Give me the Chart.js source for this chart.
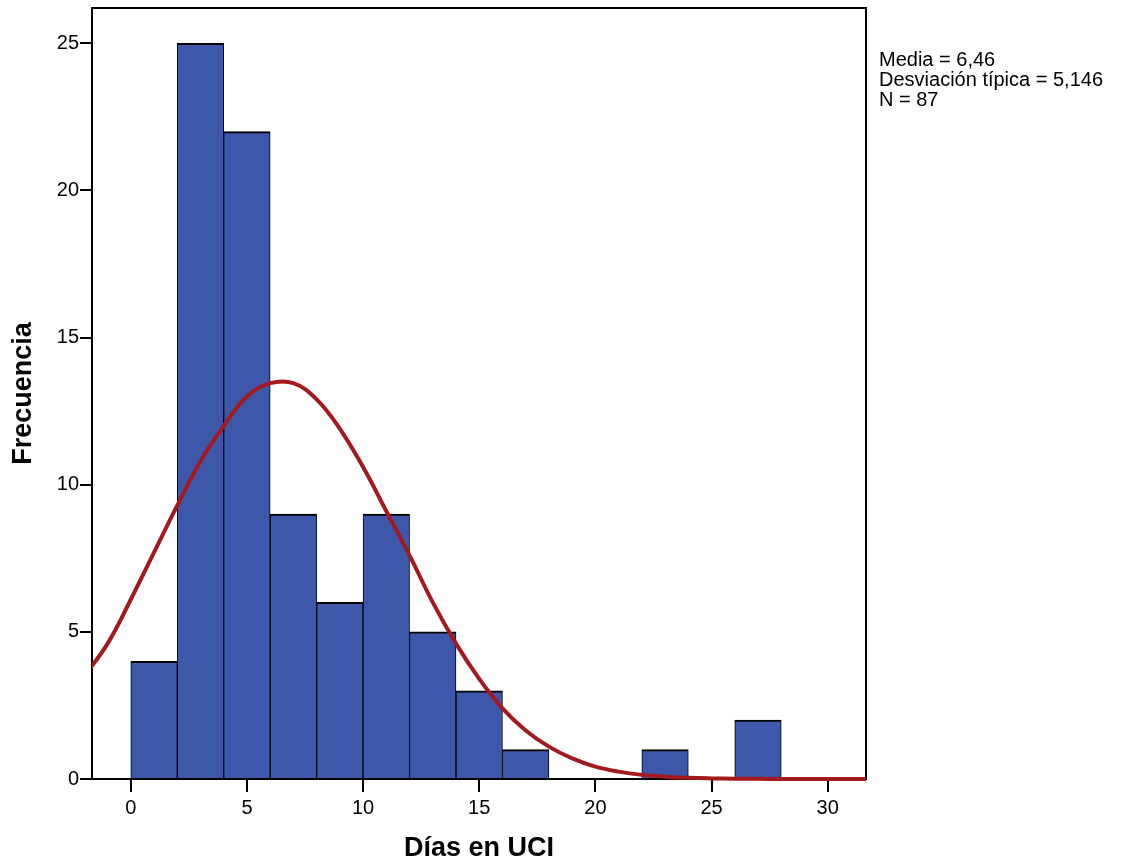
<!DOCTYPE HTML>
<html>

<head>
    <meta charset="UTF-8">
    <title>Días en UCI - Histograma</title>
    <script src="https://cdn.jsdelivr.net/npm/chart.js"></script>
    <style>
        html, body { margin: 0; padding: 0; background: #fff; }
        #wrap { width: 1121px; height: 865px; }
    </style>
</head>

<body>
    <div id="wrap"><canvas id="myChart" width="1121" height="865"></canvas></div>
    <script>
        // histogram bins (width 2 days)
        var binStarts = [0, 2, 4, 6, 8, 10, 12, 14, 16, 18, 20, 22, 24, 26];
        var counts = [4, 25, 22, 9, 6, 9, 5, 3, 1, 0, 0, 1, 0, 2];
        var binWidth = 2;

        // normal curve
        var curveX = [-2, -1, 0, 1, 2, 3, 4, 5, 6, 7, 8, 9, 10, 11, 12, 13, 14, 15, 16, 17, 18, 19, 20, 21, 22, 23, 24, 25, 26, 27, 28, 29, 30, 31, 32];
        var curveY = [3.5, 4.6, 6.1, 7.7, 9.3, 10.8, 12.0, 13.0, 13.45, 13.45, 12.9, 11.9, 10.6, 9.1, 7.6, 6.0, 4.6, 3.4, 2.4, 1.65, 1.1, 0.7, 0.42, 0.25, 0.14, 0.08, 0.04, 0.02, 0.01, 0.005, 0, 0, 0, 0, 0];

        var xTicks = [0, 5, 10, 15, 20, 25, 30];
        var yTicks = [0, 5, 10, 15, 20, 25];
        var stats = ['Media = 6,46', 'Desviación típica = 5,146', 'N = 87'];

        var fontFam = "'Liberation Sans', Arial, sans-serif";

        var barData = binStarts.map(function (s, i) {
            return { x: s + binWidth / 2, y: counts[i] === 0 ? null : counts[i] };
        });
        var lineData = curveX.map(function (x, i) {
            return { x: x, y: curveY[i] };
        });

        // frame around the plot + stats text
        var framePlugin = {
            id: 'frame',
            beforeDatasetsDraw: function (chart) {
                var c = chart.ctx, a = chart.chartArea;
                c.save();
                c.strokeStyle = '#000';
                c.lineWidth = 2;
                c.strokeRect(a.left, a.top, a.right - a.left, a.bottom - a.top);
                c.restore();
            },
            afterDraw: function (chart) {
                var c = chart.ctx;
                c.save();
                c.fillStyle = '#000';
                c.font = '20px ' + fontFam;
                c.textAlign = 'left';
                c.textBaseline = 'alphabetic';
                stats.forEach(function (t, i) {
                    c.fillText(t, 879, 66 + i * 20);
                });
                c.restore();
            }
        };

        var ctx = document.getElementById('myChart').getContext('2d');
        var chart = new Chart(ctx, {
            type: 'bar',
            data: {
                datasets: [{
                    type: 'line',
                    label: 'Normal',
                    data: lineData,
                    borderColor: '#a3191e',
                    borderWidth: 4,
                    pointRadius: 0,
                    fill: false,
                    tension: 0.4,
                    clip: { left: 0, right: 0, top: 0, bottom: 3 },
                    order: 0
                }, {
                    label: 'Frecuencia',
                    data: barData,
                    backgroundColor: '#3d58aa',
                    borderColor: '#000',
                    borderWidth: { top: 2, left: 1, right: 1, bottom: 0 },
                    borderSkipped: false,
                    barPercentage: 1,
                    categoryPercentage: 1,
                    grouped: false,
                    order: 1
                }]
            },
            options: {
                responsive: false,
                animation: false,
                layout: { padding: { top: 8, right: 255, bottom: 0, left: 0 } },
                plugins: {
                    legend: { display: false },
                    tooltip: { enabled: false }
                },
                scales: {
                    x: {
                        type: 'linear',
                        min: -1.67,
                        max: 31.65,
                        offset: false,
                        afterBuildTicks: function (s) { s.ticks = xTicks.map(function (v) { return { value: v }; }); },
                        afterFit: function (s) { s.height = 86; s.paddingLeft = 0; s.paddingRight = 0; },
                        grid: {
                            offset: false,
                            drawOnChartArea: false,
                            drawTicks: true,
                            tickLength: 13,
                            color: '#000',
                            lineWidth: 2
                        },
                        border: { color: '#000', width: 2 },
                        ticks: {
                            color: '#000',
                            padding: 4,
                            maxRotation: 0,
                            font: { family: fontFam, size: 20 }
                        },
                        title: {
                            display: true,
                            text: 'Días en UCI',
                            color: '#000',
                            padding: { top: 0, bottom: 0 },
                            font: { family: fontFam, size: 27, weight: 'bold' }
                        }
                    },
                    y: {
                        min: 0,
                        max: 26.2,
                        afterBuildTicks: function (s) { s.ticks = yTicks.map(function (v) { return { value: v }; }); },
                        afterFit: function (s) { s.width = 92; s.paddingTop = 0; s.paddingBottom = 0; },
                        grid: {
                            drawOnChartArea: false,
                            drawTicks: true,
                            tickLength: 12,
                            color: '#000',
                            lineWidth: 2
                        },
                        border: { color: '#000', width: 2 },
                        ticks: {
                            color: '#000',
                            padding: 1,
                            font: { family: fontFam, size: 20 }
                        },
                        title: {
                            display: true,
                            text: 'Frecuencia',
                            color: '#000',
                            padding: { top: 7, bottom: 0 },
                            font: { family: fontFam, size: 27, weight: 'bold' }
                        }
                    }
                }
            },
            plugins: [framePlugin]
        });
    </script>
</body>

</html>
